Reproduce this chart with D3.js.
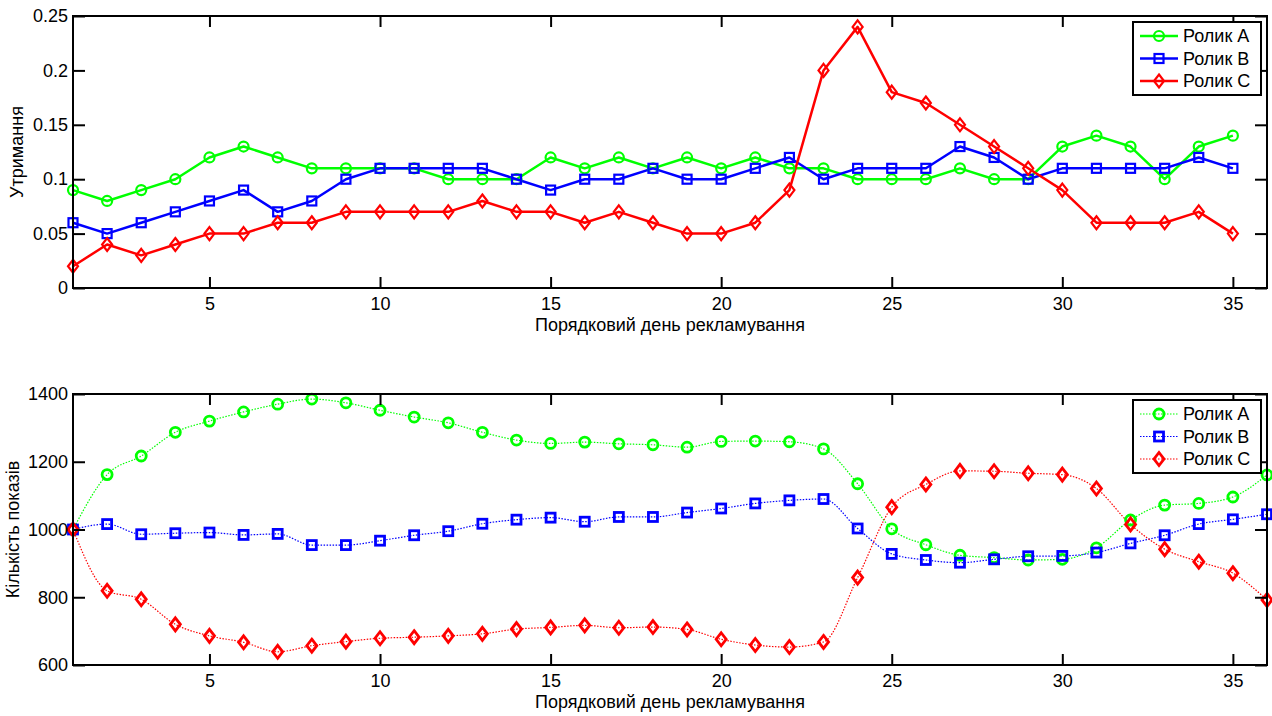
<!DOCTYPE html>
<html>
<head>
<meta charset="utf-8">
<script src="https://cdn.jsdelivr.net/npm/d3@7"></script>
<style>
  body { margin: 0; background: #fff; }
  svg { display: block; font-family: "Liberation Sans", Arial, sans-serif; }
  .tick text { font-size: 18px; fill: #000; }
</style>
</head>
<body>
<svg id="chart"></svg>
<script>
// Data
const seriesNames = ['Ролик A', 'Ролик B', 'Ролик C'];
const seriesColors = ['#00ff00', '#0000ff', '#ff0000'];
const seriesMarkers = ['circle', 'square', 'diamond'];

// top panel: retention, days 1..35
const retA = [0.09, 0.08, 0.09, 0.10, 0.12, 0.13, 0.12, 0.11, 0.11, 0.11, 0.11, 0.10, 0.10, 0.10, 0.12, 0.11, 0.12, 0.11, 0.12, 0.11, 0.12, 0.11, 0.11, 0.10, 0.10, 0.10, 0.11, 0.10, 0.10, 0.13, 0.14, 0.13, 0.10, 0.13, 0.14];
const retB = [0.06, 0.05, 0.06, 0.07, 0.08, 0.09, 0.07, 0.08, 0.10, 0.11, 0.11, 0.11, 0.11, 0.10, 0.09, 0.10, 0.10, 0.11, 0.10, 0.10, 0.11, 0.12, 0.10, 0.11, 0.11, 0.11, 0.13, 0.12, 0.10, 0.11, 0.11, 0.11, 0.11, 0.12, 0.11];
const retC = [0.02, 0.04, 0.03, 0.04, 0.05, 0.05, 0.06, 0.06, 0.07, 0.07, 0.07, 0.07, 0.08, 0.07, 0.07, 0.06, 0.07, 0.06, 0.05, 0.05, 0.06, 0.09, 0.20, 0.24, 0.18, 0.17, 0.15, 0.13, 0.11, 0.09, 0.06, 0.06, 0.06, 0.07, 0.05];

// bottom panel: impressions, days 1..36
const impA = [1000, 1162, 1217, 1287, 1320, 1347, 1370, 1385, 1374, 1352, 1332, 1315, 1287, 1264, 1254, 1258, 1253, 1250, 1243, 1260, 1261, 1259, 1238, 1135, 1002, 955, 924, 917, 910, 912, 946, 1028, 1072, 1077, 1096, 1161];
const impB = [1000, 1016, 986, 989, 991, 984, 987, 954, 954, 967, 983, 995, 1017, 1029, 1035, 1023, 1037, 1037, 1050, 1062, 1077, 1086, 1090, 1003, 928, 910, 902, 912, 921, 922, 932, 959, 983, 1016, 1030, 1045];
const impC = [1000, 819, 794, 720, 686, 667, 639, 657, 669, 679, 682, 686, 692, 706, 711, 717, 710, 712, 705, 676, 659, 653, 668, 858, 1066, 1133, 1173, 1172, 1166, 1162, 1121, 1015, 942, 905, 871, 792];

const xTicks = [5, 10, 15, 20, 25, 30, 35];
const retTicks = [0, 0.05, 0.1, 0.15, 0.2, 0.25];
const impTicks = [600, 800, 1000, 1200, 1400];

const xLabel = 'Порядковий день рекламування';

// Layout
let width = 1272, height = 716;
let left = 73, right = 1267;

let svg = d3.select('#chart')
    .attr('width', width)
    .attr('height', height);

function drawMarker(g, type, x, y, color, sw) {
    if (type === 'circle') {
        g.append('circle')
            .attr('cx', x).attr('cy', y).attr('r', 5)
            .attr('fill', 'none').attr('stroke', color).attr('stroke-width', sw);
    } else if (type === 'square') {
        g.append('rect')
            .attr('x', x - 4.5).attr('y', y - 4.5)
            .attr('width', 9).attr('height', 9)
            .attr('fill', 'none').attr('stroke', color).attr('stroke-width', sw);
    } else {
        g.append('path')
            .attr('d', `M${x},${y - 6.5}L${x + 5},${y}L${x},${y + 6.5}L${x - 5},${y}Z`)
            .attr('fill', 'none').attr('stroke', color).attr('stroke-width', sw);
    }
}

function panel(opts) {
    let top = opts.top, bottom = opts.bottom;
    let g = svg.append('g');

    let xScale = d3.scaleLinear()
        .domain([1, 36])
        .range([left, right]);
    let yScale = d3.scaleLinear()
        .domain(opts.yDomain)
        .range([bottom, top]);

    let line = d3.line()
        .x((d, i) => xScale(i + 1))
        .y(d => yScale(d));
    if (opts.smooth) line.curve(d3.curveMonotoneX);

    // lines
    opts.series.forEach((s, k) => {
        g.append('path')
            .datum(s)
            .attr('d', line)
            .attr('fill', 'none')
            .attr('stroke', seriesColors[k])
            .attr('stroke-width', opts.lineWidth)
            .attr('stroke-dasharray', opts.dash)
            .attr('stroke-linejoin', 'round');
    });

    // markers
    opts.series.forEach((s, k) => {
        s.forEach((v, i) => {
            drawMarker(g, seriesMarkers[k], xScale(i + 1), yScale(v), seriesColors[k], opts.markerWidth);
        });
    });

    // axes with inward ticks
    let ax = g.append('g').attr('class', 'axes');
    ax.append('g')
        .attr('transform', `translate(0, ${bottom})`)
        .call(d3.axisBottom(xScale).tickValues(xTicks).tickSize(-11).tickPadding(9));
    ax.append('g')
        .attr('transform', `translate(0, ${top})`)
        .call(d3.axisTop(xScale).tickValues(xTicks).tickSize(-11).tickFormat(''));
    ax.append('g')
        .attr('transform', `translate(${left}, 0)`)
        .call(d3.axisLeft(yScale).tickValues(opts.yTicks).tickSize(-12).tickPadding(5).tickFormat(d => d));
    ax.append('g')
        .attr('transform', `translate(${right}, 0)`)
        .call(d3.axisRight(yScale).tickValues(opts.yTicks).tickSize(-12).tickFormat(''));
    ax.selectAll('.domain').remove();
    ax.selectAll('.tick line').attr('stroke', '#000').attr('stroke-width', 2);
    g.append('rect')
        .attr('x', left).attr('y', top)
        .attr('width', right - left).attr('height', bottom - top)
        .attr('fill', 'none').attr('stroke', '#000').attr('stroke-width', 2);

    // axis labels
    g.append('text')
        .attr('x', (left + right) / 2)
        .attr('y', bottom + 43)
        .attr('text-anchor', 'middle')
        .style('font-size', '18px')
        .text(xLabel);
    g.append('text')
        .attr('transform', 'rotate(-90)')
        .attr('x', -(top + bottom) / 2)
        .attr('y', opts.yLabelX)
        .attr('text-anchor', 'middle')
        .attr('dy', '0.35em')
        .style('font-size', '18px')
        .text(opts.yLabel);

    // legend
    let lx = 1133, ly = top + 6, lw = 128, lh = 73;
    let legend = g.append('g');
    legend.append('rect')
        .attr('x', lx).attr('y', ly).attr('width', lw).attr('height', lh)
        .attr('fill', '#fff').attr('stroke', '#000').attr('stroke-width', 2);
    seriesNames.forEach((name, k) => {
        let yy = ly + 14 + k * 22.5;
        legend.append('line')
            .attr('x1', lx + 7).attr('x2', lx + 45)
            .attr('y1', yy).attr('y2', yy)
            .attr('stroke', seriesColors[k])
            .attr('stroke-width', opts.lineWidth)
            .attr('stroke-dasharray', opts.dash);
        drawMarker(legend, seriesMarkers[k], lx + 26, yy, seriesColors[k], opts.markerWidth);
        legend.append('text')
            .attr('x', lx + 50).attr('y', yy)
            .attr('dy', '0.35em')
            .style('font-size', '18px')
            .text(name);
    });
}

// Top panel: retention
panel({
    top: 16, bottom: 288,
    yDomain: [0, 0.25], yTicks: retTicks,
    series: [retA, retB, retC],
    lineWidth: 2.5, dash: null, markerWidth: 2.2, smooth: false,
    yLabel: 'Утримання', yLabelX: 17
});

// Bottom panel: impressions
panel({
    top: 394, bottom: 665,
    yDomain: [600, 1400], yTicks: impTicks,
    series: [impA, impB, impC],
    lineWidth: 1.2, dash: '1.5,1.5', markerWidth: 2.8, smooth: true,
    yLabel: 'Кількість показів', yLabelX: 13
});
</script>
</body>
</html>
